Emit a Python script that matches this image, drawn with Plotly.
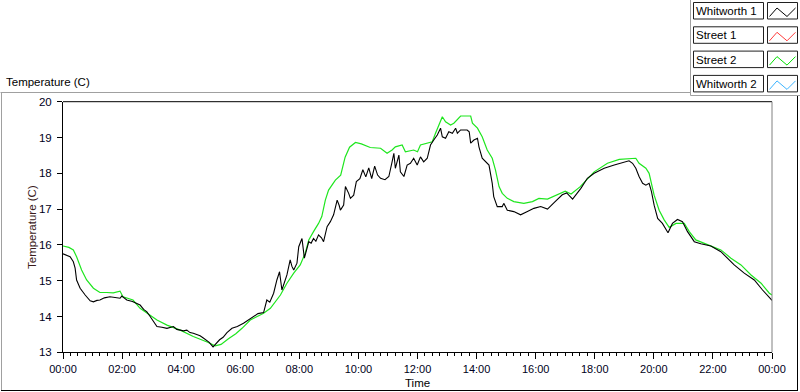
import plotly.graph_objects as go

# ---------------- data ----------------
street2_hours = [0.00, 0.20, 0.35, 0.46, 0.63, 0.80, 1.03, 1.25, 1.48, 1.70, 1.93, 2.03, 2.37, 2.61, 2.84,
                 3.18, 3.52, 3.97, 4.41, 4.64, 4.90, 5.15, 5.35, 5.60, 5.85, 6.06, 6.34, 6.79, 7.02, 7.36,
                 7.58, 7.81, 8.03, 8.20, 8.32, 8.48, 8.65, 8.76, 8.88, 8.99, 9.11, 9.22, 9.40, 9.55, 9.70,
                 9.90, 10.10, 10.40, 10.75, 10.97, 11.14, 11.25, 11.48, 11.59, 11.87, 12.00, 12.10, 12.38,
                 12.50, 12.61, 12.72, 12.84, 12.95, 13.12, 13.23, 13.35, 13.46, 13.80, 13.86, 14.03, 14.19,
                 14.36, 14.53, 14.64, 14.76, 14.87, 15.04, 15.26, 15.60, 15.89, 16.11, 16.40, 16.70, 17.00,
                 17.20, 17.50, 17.98, 18.43, 18.83, 19.39, 19.50, 19.73, 19.84, 19.90, 20.01, 20.18, 20.35,
                 20.52, 20.75, 21.03, 21.20, 21.42, 21.82, 22.27, 22.61, 22.95, 23.29, 23.63, 23.91, 24.00]
street2_temp = [15.97, 15.93, 15.86, 15.67, 15.30, 15.02, 14.79, 14.67, 14.67, 14.66, 14.71, 14.55, 14.46, 14.23, 14.10,
                13.90, 13.76, 13.62, 13.44, 13.37, 13.28, 13.18, 13.22, 13.38, 13.52, 13.67, 13.90, 14.09, 14.23, 14.60,
                14.93, 15.21, 15.44, 15.77, 16.14, 16.37, 16.60, 16.79, 17.25, 17.53, 17.67, 17.81, 17.95, 18.45, 18.73,
                18.86, 18.82, 18.72, 18.70, 18.56, 18.65, 18.74, 18.79, 18.60, 18.65, 18.60, 18.79, 18.84,
                18.88, 19.12, 19.35, 19.58, 19.44, 19.35, 19.40, 19.49, 19.60, 19.60, 19.40, 19.26, 19.02,
                18.65, 18.42, 18.09, 17.63, 17.44, 17.30, 17.21, 17.16, 17.21, 17.30, 17.28, 17.38, 17.50,
                17.42, 17.62, 18.04, 18.28, 18.39, 18.42, 18.28, 18.14, 18.00, 17.77, 17.39, 16.97, 16.70,
                16.49, 16.60, 16.60, 16.37, 16.14, 16.00, 15.86, 15.63, 15.44, 15.16, 14.93, 14.65, 14.60]

whitworth1_hours = [0.00, 0.10, 0.24, 0.35, 0.41, 0.46, 0.58, 0.75, 0.92, 1.03, 1.15, 1.25, 1.40, 1.59, 1.75,
                    1.93, 1.99, 2.16, 2.35, 2.50, 2.61, 2.73, 2.84, 2.95, 3.06, 3.18, 3.35, 3.52, 3.74, 3.85,
                    3.97, 4.08, 4.19, 4.30, 4.41, 4.52, 4.64, 4.75, 4.85, 4.95, 5.08, 5.20, 5.30, 5.42, 5.55,
                    5.72, 5.90, 6.11, 6.30, 6.45, 6.60, 6.79, 6.90, 7.00, 7.13, 7.24, 7.33, 7.41, 7.50, 7.58,
                    7.69, 7.75, 7.81, 7.92, 7.98, 8.09, 8.17, 8.25, 8.32, 8.40, 8.48, 8.56, 8.65, 8.75, 8.82,
                    8.94, 9.05, 9.16, 9.28, 9.35, 9.39, 9.50, 9.56, 9.67, 9.73, 9.84, 9.93, 10.05, 10.15, 10.25,
                    10.35, 10.45, 10.55, 10.65, 10.75, 10.90, 11.03, 11.14, 11.20, 11.25, 11.37, 11.42, 11.54,
                    11.65, 11.76, 11.87, 11.99, 12.10, 12.21, 12.33, 12.44, 12.55, 12.67, 12.78, 12.84, 12.95,
                    13.06, 13.18, 13.29, 13.35, 13.46, 13.68, 13.75, 13.80, 13.91, 14.03, 14.08, 14.19, 14.31,
                    14.42, 14.53, 14.58, 14.70, 14.87, 14.92, 15.04, 15.26, 15.49, 15.72, 15.94, 16.17, 16.40,
                    16.65, 16.90, 17.05, 17.25, 17.53, 17.75, 17.98, 18.32, 18.66, 18.99, 19.16, 19.28, 19.39,
                    19.50, 19.62, 19.73, 19.84, 19.92, 20.01, 20.13, 20.29, 20.48, 20.63, 20.80, 20.97, 21.14,
                    21.37, 21.59, 21.93, 22.27, 22.50, 22.72, 23.06, 23.40, 23.68, 24.00]
whitworth1_temp = [15.75, 15.72, 15.67, 15.53, 15.35, 15.02, 14.79, 14.60, 14.44, 14.41, 14.45, 14.46, 14.52, 14.55, 14.53,
                   14.51, 14.57, 14.46, 14.42, 14.37, 14.32, 14.20, 14.13, 14.00, 13.86, 13.72, 13.70, 13.67, 13.72, 13.64,
                   13.62, 13.60, 13.62, 13.55, 13.53, 13.50, 13.46, 13.40, 13.35, 13.28, 13.15, 13.25, 13.35, 13.42, 13.55,
                   13.67, 13.72, 13.81, 13.92, 14.00, 14.08, 14.11, 14.46, 14.40, 14.65, 15.02, 15.25, 14.74, 14.95, 15.16,
                   15.58, 15.40, 15.30, 15.49, 15.95, 16.18, 15.63, 15.90, 16.09, 16.05, 16.18, 16.10, 16.28, 16.20, 16.09,
                   16.51, 16.65, 16.84, 17.25, 17.10, 16.97, 17.11, 17.63, 17.44, 17.30, 17.39, 17.77, 17.85, 18.10, 17.90,
                   18.15, 17.85, 18.20, 17.95, 17.86, 17.82, 17.91, 18.32, 18.56, 18.14, 18.51, 18.04, 17.91,
                   18.23, 18.28, 18.42, 18.23, 18.46, 18.32, 18.42, 18.79, 18.93, 19.07, 19.26, 19.02, 18.98,
                   19.16, 19.12, 19.26, 19.12, 19.21, 19.21, 19.16, 18.84, 18.93, 18.98, 18.74, 18.42, 18.32,
                   18.23, 17.72, 17.35, 17.07, 17.07, 17.16, 16.97, 16.93, 16.84, 16.93, 17.02, 17.07, 17.00,
                   17.20, 17.40, 17.45, 17.28, 17.58, 17.86, 18.00, 18.14, 18.23, 18.30, 18.35, 18.28, 18.14,
                   17.91, 17.72, 17.67, 17.72, 17.49, 17.11, 16.74, 16.60, 16.34, 16.60, 16.71, 16.65, 16.37,
                   16.09, 16.03, 15.97, 15.81, 15.63, 15.44, 15.21, 15.02, 14.74, 14.45]

legend_names = ["Whitworth 1", "Street 1", "Street 2", "Whitworth 2"]
legend_colors = ["#000000", "#ff3c3c", "#00e000", "#3cb4ff"]

x_tickvals = [0, 2, 4, 6, 8, 10, 12, 14, 16, 18, 20, 22, 24]
x_ticktext = ["00:00", "02:00", "04:00", "06:00", "08:00", "10:00", "12:00",
              "14:00", "16:00", "18:00", "20:00", "22:00", "00:00"]
y_tickvals = [13, 14, 15, 16, 17, 18, 19, 20]

chart_title = "Temperature (C)"
y_title = "Temperature (C)"
x_title = "Time"

# ---------------- layout helpers ----------------
W, H = 800, 392
FONT = "Liberation Sans, Arial, sans-serif"


def px(x):
    return x / W


def py(y):
    return 1 - y / H


PL, PR, PT, PB = 63, 772, 101.7, 352.3

fig = go.Figure()

fig.add_trace(go.Scatter(x=street2_hours, y=street2_temp, mode="lines", name="Street 2",
                         line=dict(color="#1ee61e", width=1.2), showlegend=False,
                         hoverinfo="skip"))
fig.add_trace(go.Scatter(x=whitworth1_hours, y=whitworth1_temp, mode="lines", name="Whitworth 1",
                         line=dict(color="#000000", width=1.1), showlegend=False,
                         hoverinfo="skip"))

shapes = []
annotations = []

# plot frame: top black, right gray
shapes.append(dict(type="line", xref="paper", yref="paper", x0=px(PL), x1=px(PR), y0=py(PT), y1=py(PT),
                   line=dict(color="#000000", width=1)))
shapes.append(dict(type="line", xref="paper", yref="paper", x0=px(PR), x1=px(PR), y0=py(PT), y1=py(PB),
                   line=dict(color="#808080", width=1)))

# outer panel frame
gray = "#a0a0a0"
shapes += [
    dict(type="line", xref="paper", yref="paper", x0=px(0.5), x1=px(690), y0=py(92.5), y1=py(92.5),
         line=dict(color=gray, width=1)),
    dict(type="line", xref="paper", yref="paper", x0=px(1.5), x1=px(1.5), y0=py(92.5), y1=py(390),
         line=dict(color=gray, width=1)),
    dict(type="line", xref="paper", yref="paper", x0=px(1), x1=px(798), y0=py(390.5), y1=py(390.5),
         line=dict(color="#000000", width=1)),
    dict(type="line", xref="paper", yref="paper", x0=px(797.5), x1=px(797.5), y0=py(95.5), y1=py(391),
         line=dict(color="#000000", width=1)),
    # legend panel
    dict(type="line", xref="paper", yref="paper", x0=px(690.5), x1=px(690.5), y0=py(0), y1=py(95.5),
         line=dict(color=gray, width=1)),
    dict(type="line", xref="paper", yref="paper", x0=px(690.5), x1=px(800), y0=py(95.5), y1=py(95.5),
         line=dict(color=gray, width=1)),
]

# legend entries
row_tops = [2.5, 26.8, 51.1, 75.4]
for name, color, top in zip(legend_names, legend_colors, row_tops):
    bot = top + 16.5
    shapes.append(dict(type="rect", xref="paper", yref="paper", x0=px(693.5), x1=px(763.5),
                       y0=py(bot), y1=py(top), line=dict(color="#202020", width=1),
                       fillcolor="white", layer="below"))
    shapes.append(dict(type="rect", xref="paper", yref="paper", x0=px(767.5), x1=px(797.5),
                       y0=py(bot), y1=py(top), line=dict(color="#202020", width=1),
                       fillcolor="white", layer="below"))
    pts = [(769.5, top + 14), (777, top + 5.5), (787, top + 14), (795.5, top + 5.5)]
    path = "M " + " L ".join(f"{px(a):.5f},{py(b):.5f}" for a, b in pts)
    shapes.append(dict(type="path", xref="paper", yref="paper", path=path,
                       line=dict(color=color, width=1)))
    annotations.append(dict(text=name, xref="paper", yref="paper", x=px(695), y=py(top + 8.5),
                            xanchor="left", yanchor="middle", showarrow=False, borderpad=0,
                            font=dict(family=FONT, size=11.5, color="#000000")))

# titles
annotations.append(dict(text=chart_title, xref="paper", yref="paper", x=px(4.5), y=py(81.5),
                        xanchor="left", yanchor="middle", showarrow=False, borderpad=0,
                        font=dict(family=FONT, size=11.5, color="#000000")))
annotations.append(dict(text=y_title, xref="paper", yref="paper", x=px(32), y=py(227),
                        xanchor="center", yanchor="middle", textangle=-90, showarrow=False,
                        borderpad=0, font=dict(family=FONT, size=11.5, color="#3a1a1a")))
annotations.append(dict(text=x_title, xref="paper", yref="paper", x=px(417), y=py(383),
                        xanchor="center", yanchor="middle", showarrow=False, borderpad=0,
                        font=dict(family=FONT, size=11.5, color="#000000")))

fig.update_layout(
    template="none",
    autosize=False,
    width=W, height=H,
    margin=dict(l=0, r=0, t=0, b=0, pad=0, autoexpand=False),
    paper_bgcolor="white", plot_bgcolor="white",
    showlegend=False,
    shapes=shapes, annotations=annotations,
    xaxis=dict(domain=[px(PL), px(PR)], range=[0, 24], tickmode="array", automargin=False,
               tickvals=x_tickvals, ticktext=x_ticktext, ticks="outside", ticklen=6,
               tickcolor="#000000", tickwidth=1, showline=True, linecolor="#000000", linewidth=1,
               showgrid=False, zeroline=False,
               tickfont=dict(family=FONT, size=11, color="#000020"),
               minor=dict(dtick=0.25, tick0=0, ticks="outside", ticklen=3, tickcolor="#000000",
                          tickwidth=1, showgrid=False)),
    yaxis=dict(domain=[py(PB), py(PT)], range=[13, 20], tickmode="array", tickvals=y_tickvals,
               automargin=False,
               ticks="outside", ticklen=5, tickcolor="#000000", showline=True, linecolor="#000000",
               linewidth=1, showgrid=False, zeroline=False, ticklabelstandoff=3,
               tickfont=dict(family=FONT, size=11.5, color="#000020")),
)

fig.write_html("out.html", config={"displayModeBar": False, "staticPlot": True},
               post_script="document.body.style.margin='0px';document.body.style.overflow='hidden';")
